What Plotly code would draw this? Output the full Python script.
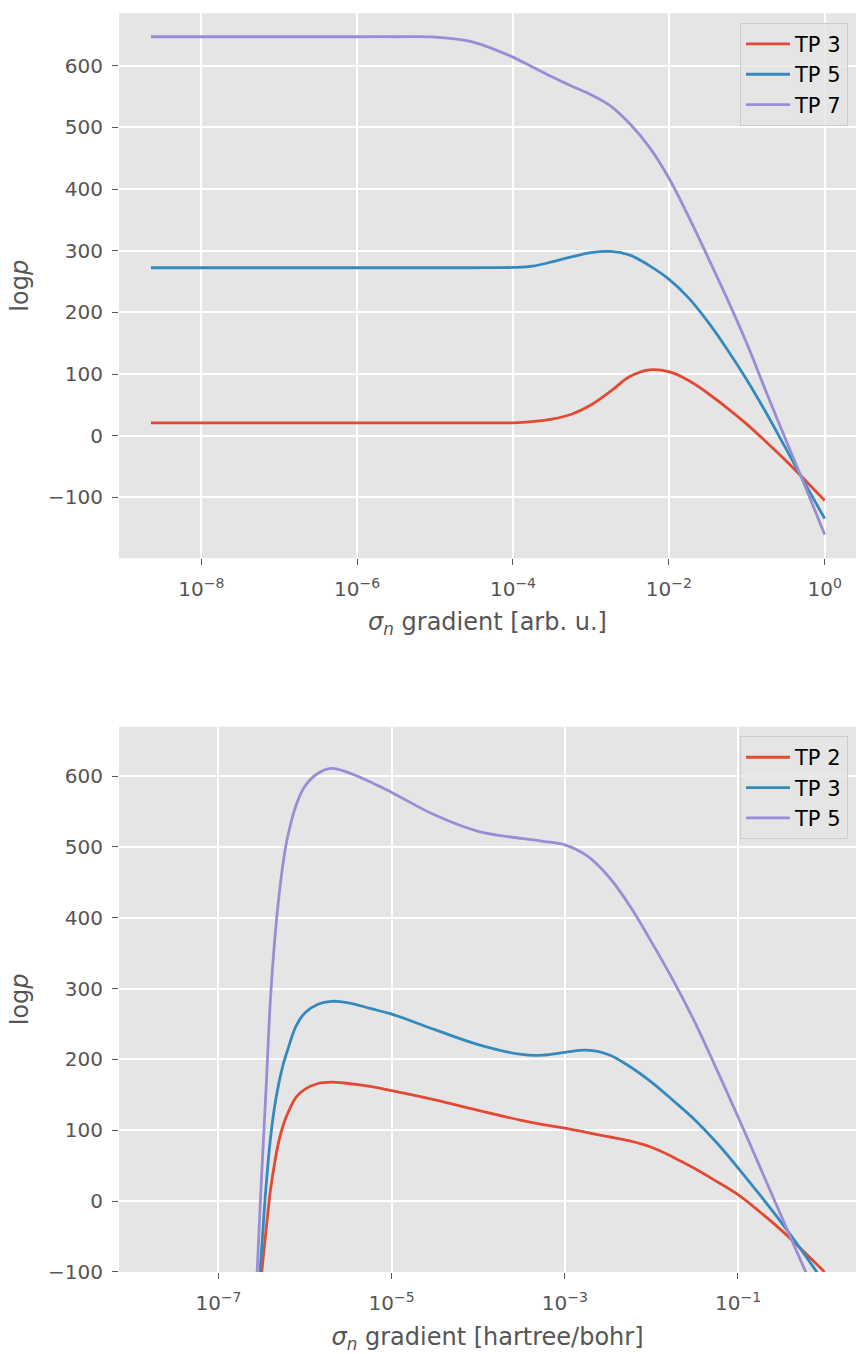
import plotly.graph_objects as go

# ---- upper panel: sigma_n gradient in arbitrary units ----
x_arb = [2.26e-9, 1e-8, 1e-7, 1e-6, 3.16e-6, 1e-5, 1.78e-5, 3.16e-5, 5.62e-5,
         1e-4, 1.78e-4, 3.16e-4, 5.62e-4, 1e-3, 1.78e-3, 3.16e-3, 5.62e-3,
         1e-2, 1.78e-2, 3.16e-2, 5.62e-2, 0.1, 0.178, 0.316, 0.562, 1.0]
tp3_arb = [21, 21, 21, 21, 21, 21, 21, 21, 21, 21, 23, 27, 35, 50, 72, 96, 107, 104, 90,
           69, 45, 19, -10, -40, -72, -105]
tp5_arb = [272.5, 272.5, 272.5, 272.5, 272.5, 272.5, 272.5, 272.5, 272.7, 273, 275, 282,
           290, 297, 299, 293, 276, 254, 224, 185, 140, 91, 37, -20, -78, -134]
tp7_arb = [647, 647, 647, 647, 647, 646.5, 643.5, 638, 627, 614, 598, 582, 567, 553, 535,
           506, 468, 418, 356, 290, 222, 150, 71, -6, -82, -160]

# ---- lower panel: sigma_n gradient in hartree/bohr ----
x_hb = [2.0e-7, 3.16e-7, 3.55e-7, 3.98e-7, 4.47e-7, 5.01e-7, 5.62e-7, 6.31e-7, 7.94e-7,
        1e-6, 1.41e-6, 2.0e-6, 3.16e-6, 5.62e-6, 1e-5, 3.16e-5, 1e-4, 3.16e-4, 5.62e-4,
        1e-3, 1.78e-3, 3.16e-3, 5.62e-3, 1e-2, 1.78e-2, 3.16e-2, 5.62e-2, 0.1, 0.178,
        0.316, 0.562, 1.0]
tp2_hb = [-334, -100, -40, 15, 55, 86, 108, 124, 147, 158, 166, 168, 166, 162, 156, 143,
          128, 114, 108, 103, 97, 91, 85, 76, 62, 46, 28, 9, -15, -41, -70, -100]
tp3_hb = [-415, -65, 22, 88, 135, 168, 194, 214, 248, 266, 278, 282, 280, 272, 264, 242,
          221, 207, 206, 210, 213, 207, 190, 168, 142, 115, 83, 47, 9, -30, -72, -116]
tp5_hb = [-480, 40, 160, 285, 370, 432, 480, 515, 560, 586, 604, 611, 605, 592, 577, 545,
          522, 512, 508, 503, 488, 459, 417, 366, 312, 253, 187, 119, 49, -21, -91, -160]

# tick labels
xt_top = [1e-8, 1e-6, 1e-4, 1e-2, 1]
xt_top_text = ["10<sup>−8</sup>", "10<sup>−6</sup>", "10<sup>−4</sup>", "10<sup>−2</sup>", "10<sup>0</sup>"]
xt_bot = [1e-7, 1e-5, 1e-3, 1e-1]
xt_bot_text = ["10<sup>−7</sup>", "10<sup>−5</sup>", "10<sup>−3</sup>", "10<sup>−1</sup>"]
yt_top = [-100, 0, 100, 200, 300, 400, 500, 600]
yt_bot = [-100, 0, 100, 200, 300, 400, 500, 600]

COLORS = ["#E24A33", "#348ABD", "#988ED5"]
FONT = "DejaVu Sans, Verdana, sans-serif"
LW = 2.8


def fmt(v):
    return ("−" + str(-v)) if v < 0 else str(v)


fig = go.Figure()

for name, ys, c in [("TP 3", tp3_arb, COLORS[0]), ("TP 5", tp5_arb, COLORS[1]),
                    ("TP 7", tp7_arb, COLORS[2])]:
    fig.add_trace(go.Scatter(x=x_arb, y=ys, name=name, mode="lines",
                             line=dict(color=c, width=LW, shape="spline", smoothing=1.1),
                             xaxis="x", yaxis="y", legend="legend"))

for name, ys, c in [("TP 2", tp2_hb, COLORS[0]), ("TP 3", tp3_hb, COLORS[1]),
                    ("TP 5", tp5_hb, COLORS[2])]:
    fig.add_trace(go.Scatter(x=x_hb, y=ys, name=name, mode="lines",
                             line=dict(color=c, width=LW, shape="spline", smoothing=1.1),
                             xaxis="x2", yaxis="y2", legend="legend2"))

W, H = 856, 1354
left = 119 / W
top_dom = [1 - 563.3 / H, 1 - 13.3 / H]
bot_dom = [1 - 1283.3 / H, 1 - 733.3 / H]

axis_common = dict(
    showgrid=True, gridcolor="white", gridwidth=1.6,
    zeroline=False, showline=False,
    ticks="outside", ticklen=6, tickwidth=1.3, tickcolor="#555555",
    tickfont=dict(family=FONT, size=20, color="#555555"),
)
title_font = dict(family=FONT, size=24, color="#555555")

legend_common = dict(
    xanchor="right", yanchor="top",
    bgcolor="rgba(229,229,229,0.8)", bordercolor="#CCCCCC", borderwidth=1,
    font=dict(family=FONT, size=21, color="black"),
    itemwidth=44, tracegroupgap=0,
)

fig.update_layout(
    width=W, height=H,
    margin=dict(l=0, r=0, t=0, b=0),
    paper_bgcolor="white", plot_bgcolor="#E5E5E5",
    showlegend=True,
    xaxis=dict(type="log", domain=[left, 1.0], anchor="y",
               range=[-9.056, 0.402], tickvals=xt_top, ticktext=xt_top_text,
               ticklabelstandoff=7,
               title=dict(text="<i>σ<sub>n</sub></i> gradient [arb. u.]", font=title_font,
                          standoff=12),
               **axis_common),
    yaxis=dict(domain=top_dom, anchor="x", range=[-198.6, 685.2],
               tickvals=yt_top, ticktext=[fmt(v) for v in yt_top],
               ticklabelstandoff=5,
               title=dict(text="log<i>p</i>", font=title_font, standoff=12),
               **axis_common),
    xaxis2=dict(type="log", domain=[left, 1.0], anchor="y2",
                range=[-8.149, 0.363], tickvals=xt_bot, ticktext=xt_bot_text,
                ticklabelstandoff=7,
                title=dict(text="<i>σ<sub>n</sub></i> gradient [hartree/bohr]", font=title_font,
                           standoff=16),
                **axis_common),
    yaxis2=dict(domain=bot_dom, anchor="x2", range=[-100, 669.6],
                tickvals=yt_bot, ticktext=[fmt(v) for v in yt_bot],
                ticklabelstandoff=5,
                title=dict(text="log<i>p</i>", font=title_font, standoff=12),
                **axis_common),
    legend=dict(x=848 / W, y=1 - 23 / H, **legend_common),
    legend2=dict(x=848 / W, y=1 - 742.7 / H, **legend_common),
)

fig.write_html("out.html")
